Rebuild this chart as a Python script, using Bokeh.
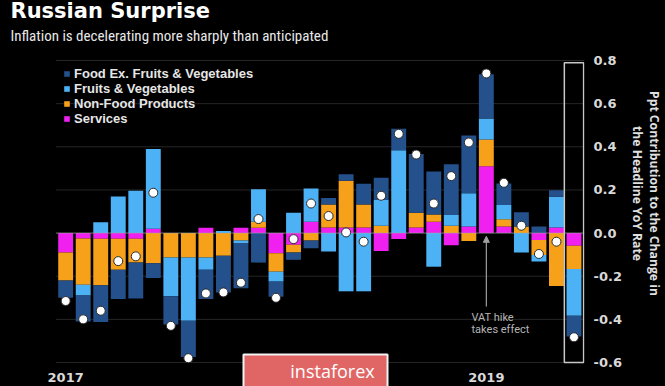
import math
import numpy as np
from bokeh.plotting import figure
from bokeh.models import (ColumnDataSource, FixedTicker, PrintfTickFormatter, Label,
                          Legend, LegendItem, Arrow, NormalHead, BoxAnnotation)
from bokeh.embed import file_html
from bokeh.resources import INLINE

# ---- data (Jan 2017 .. Jun 2019, monthly), ppt contribution to change in YoY CPI ----
months = list(range(30))
year_ticks = [0, 24]
year_labels = ["2017", "2019"]
vat_month = 24

services = [-0.09, -0.025, -0.026, -0.026, -0.026, 0.02, 0.0, 0.0, 0.025, 0.0,
            0.025, 0.025, -0.094, -0.054, 0.052, 0.026, 0.026, 0.026, -0.083, -0.028,
            0.026, 0.052, -0.056, 0.03, 0.31, 0.03, 0.0, -0.032, 0.026, -0.059]
non_food = [-0.13, -0.215, -0.216, -0.144, -0.11, -0.14, -0.113, -0.113, -0.113, -0.105,
            -0.034, 0.028, -0.085, -0.036, -0.034, 0.106, 0.216, 0.106, 0.034, 0.0,
            0.068, 0.034, 0.034, -0.037, 0.124, 0.034, 0.03, -0.07, -0.245, -0.108]
fruits_veg = [0.0, -0.05, 0.05, 0.17, 0.196, 0.37, -0.18, -0.293, -0.057, 0.01,
              -0.012, 0.15, -0.046, 0.094, 0.155, -0.086, -0.27, -0.27, 0.119, 0.384,
              0.0, -0.156, 0.05, 0.155, 0.097, 0.066, -0.09, -0.03, 0.142, -0.216]
food_ex = [-0.08, -0.12, -0.17, -0.136, -0.167, -0.068, -0.131, -0.168, -0.136, -0.17,
           -0.21, -0.137, -0.07, -0.034, -0.036, 0.031, 0.031, 0.097, 0.103, 0.1,
           0.272, 0.2, 0.235, 0.267, 0.205, 0.1, 0.067, 0.03, 0.03, -0.097]
headline = [-0.315, -0.40, -0.36, -0.13, -0.108, 0.187, -0.43, -0.58, -0.28, -0.275,
            -0.23, 0.065, -0.30, -0.028, 0.137, 0.079, 0.003, -0.04, 0.173, 0.46,
            0.364, 0.137, 0.264, 0.42, 0.74, 0.233, 0.034, -0.097, -0.04, -0.483]

y_ticks = [-0.6, -0.4, -0.2, 0.0, 0.2, 0.4, 0.6, 0.8]

series = [
    ("Services", services, "#f020f0"),
    ("Non-Food Products", non_food, "#f7a11a"),
    ("Fruits & Vegetables", fruits_veg, "#4cb2f5"),
    ("Food Ex. Fruits & Vegetables", food_ex, "#24508c"),
]

W, H = 665, 386
x_lo, x_hi = -0.55, 29.6
p = figure(width=W, height=H, x_range=(-3.718, x_hi), y_range=(-0.7113, 1.0782),
           output_backend="svg", toolbar_location=None, y_axis_location="right",
           x_axis_location=None, background_fill_color="black", border_fill_color="black",
           outline_line_color=None, min_border_left=0, min_border_right=76,
           min_border_top=0, min_border_bottom=0)

p.xgrid.visible = False
p.ygrid.visible = False

ax = p.yaxis[0]
ax.ticker = FixedTicker(ticks=y_ticks)
ax.bounds = (y_ticks[0], y_ticks[-1])
ax.formatter = PrintfTickFormatter(format="%.1f")
ax.major_tick_out = 0
ax.major_tick_in = 0
ax.minor_tick_out = 0
ax.minor_tick_in = 0
ax.axis_line_color = None
ax.major_label_standoff = 9
ax.major_label_text_font = "DejaVu Sans"
ax.major_label_text_font_style = "bold"
ax.major_label_text_font_size = "13px"
ax.major_label_text_color = "#d9d9d9"
ax.axis_label = "Ppt Contribution to the Change in\nthe Headline YoY Rate"
ax.axis_label_standoff = 4
ax.axis_label_text_font = "Open Sans"
ax.axis_label_text_font_style = "bold"
ax.axis_label_text_font_size = "12.2px"
ax.axis_label_text_color = "#e0e0e0"
ax.axis_label_text_line_height = 1.0

# horizontal grid lines over the plotting strip
p.segment(x0=[x_lo] * len(y_ticks), x1=[x_hi] * len(y_ticks), y0=y_ticks, y1=y_ticks,
          line_color="#262626", line_width=1)

pos = np.zeros(len(months))
neg = np.zeros(len(months))
rends = {}
for name, vals, col in series:
    v = np.array(vals, dtype=float)
    bottom = np.where(v >= 0, pos, neg)
    top = bottom + v
    pos = np.where(v >= 0, top, pos)
    neg = np.where(v < 0, top, neg)
    src = ColumnDataSource(dict(x=months, bottom=bottom, top=top))
    rends[name] = p.vbar(x="x", bottom="bottom", top="top", width=0.85, source=src,
                         fill_color=col, line_color=None)

# zero line
p.segment(x0=[x_lo], x1=[x_hi], y0=[0], y1=[0], line_color="#a8a8a8", line_alpha=0.55, line_width=1)

# highlight box around latest month
last = months[-1]
p.quad(left=[last - 0.55], right=[last + 0.55], top=[0.79], bottom=[-0.6],
       fill_color=None, line_color="#c8c8c8", line_width=1.5)

p.scatter(months, headline, size=9, fill_color="white", line_color="#2a2a2a", line_width=1)

p.add_layout(Arrow(end=NormalHead(size=6, fill_color="#a0a0a0", line_color="#a0a0a0"),
                   x_start=months[vat_month], y_start=-0.34, x_end=months[vat_month], y_end=-0.015,
                   line_color="#a0a0a0", line_width=1.2))

p.add_layout(Label(x=471, y=H - 317, x_units="screen", y_units="screen", text="VAT hike",
                   text_font="Roboto", text_font_size="11px", text_color="#b5b5b5",
                   text_align="left", text_baseline="middle"))
p.add_layout(Label(x=471, y=H - 329, x_units="screen", y_units="screen", text="takes effect",
                   text_font="Roboto", text_font_size="11px", text_color="#b5b5b5",
                   text_align="left", text_baseline="middle"))

# legend
order = ["Food Ex. Fruits & Vegetables", "Fruits & Vegetables", "Non-Food Products", "Services"]
legend = Legend(items=[LegendItem(label=n, renderers=[rends[n]]) for n in order],
                location=(63, H - 125.5), orientation="vertical", padding=0, margin=0, spacing=0,
                glyph_width=7, glyph_height=7, label_height=7, label_standoff=4,
                label_text_font="Liberation Sans", label_text_font_style="bold",
                label_text_font_size="13px", label_text_color="#e6e6e6",
                label_text_baseline="alphabetic",
                background_fill_alpha=0, border_line_color=None)
p.add_layout(legend)

# title & subtitle
p.add_layout(Label(x=10, y=H - 10.5, x_units="screen", y_units="screen", text="Russian Surprise",
                   text_font="DejaVu Sans", text_font_style="bold", text_font_size="21px",
                   text_color="#ffffff", text_baseline="middle"))
p.add_layout(Label(x=10, y=H - 35, x_units="screen", y_units="screen",
                   text="Inflation is decelerating more sharply than anticipated",
                   text_font="Liberation Sans Narrow, Arial Narrow, Roboto Condensed, sans-serif",
                   text_font_size="15px", text_color="#e8e8e8", text_baseline="middle"))

# year labels
for t, lab in zip(year_ticks, year_labels):
    p.add_layout(Label(x=months[t], y=H - 377, x_units="data", y_units="screen", text=lab,
                       text_font="DejaVu Sans", text_font_style="bold",
                       text_font_size="13px", text_color="#d9d9d9",
                       text_align="center", text_baseline="middle"))

# watermark
p.add_layout(BoxAnnotation(left=243, right=387, bottom=-6, top=H - 354,
                           left_units="screen", right_units="screen",
                           bottom_units="screen", top_units="screen",
                           fill_color="#e06666", fill_alpha=1.0,
                           line_color="#f2f2f2", line_width=2, line_alpha=1.0))
p.add_layout(Label(x=332, y=H - 370, x_units="screen", y_units="screen", text="instaforex",
                   text_font="Open Sans", text_font_size="18px", text_color="#ffffff",
                   text_align="center", text_baseline="middle"))

html = file_html(p, INLINE)
html = html.replace("<head>", "<head><style>html,body{background:#000000;}</style>", 1)
open("out.html", "w").write(html)
